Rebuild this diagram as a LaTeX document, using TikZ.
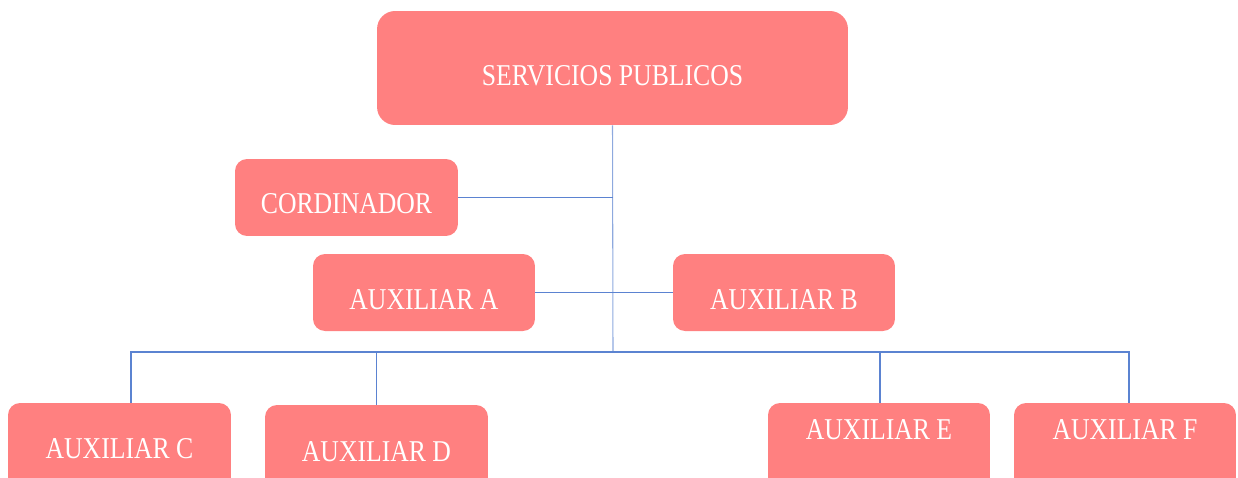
\documentclass[tikz,border=0pt]{standalone}
\usepackage{fontspec}
\setmainfont{Liberation Serif}
\newfontfamily\boxfont[FakeStretch=0.85]{Liberation Serif}
\usetikzlibrary{positioning}
\definecolor{boxred}{HTML}{FF8080}
\definecolor{linkblue}{HTML}{5B83D1}
\definecolor{trunkblue}{HTML}{8EA9DE}

\begin{document}
\begin{tikzpicture}[
          x = 0.02cm, y = -0.02cm,
        box/.style = {rectangle, rounded corners=2.4mm, fill=boxred, text=white, inner sep=0pt,
                      anchor=base, minimum width=4.46cm, font=\boxfont\fontsize{17.2}{20}\selectfont},
       link/.style = {draw=linkblue, line width=0.6pt}
                        ]
\clip (0,0) rectangle (1238,477);
\node (serv) [box, minimum width=9.42cm, rounded corners=3.6mm, text height=1.48cm, text depth=0.8cm] at (612.5,85) {SERVICIOS PUBLICOS};
\node (cord) [box, text height=1.08cm, text depth=0.46cm] at (346.5,213) {CORDINADOR};
\node (auxA) [box, minimum width=4.44cm, text height=1.1cm, text depth=0.44cm] at (424,309) {AUXILIAR A};
\node (auxB) [box, minimum width=4.44cm, text height=1.1cm, text depth=0.44cm] at (784,309) {AUXILIAR B};
\node (auxC) [box, text height=1.1cm, text depth=1cm] at (119.5,458) {AUXILIAR C};
\node (auxD) [box, text height=1.12cm, text depth=1cm] at (376.5,461) {AUXILIAR D};
\node (auxE) [box, minimum width=4.44cm, text height=0.72cm, text depth=1.4cm] at (879,439) {AUXILIAR E};
\node (auxF) [box, minimum width=4.44cm, text height=0.72cm, text depth=1.4cm] at (1125,439) {AUXILIAR F};
\coordinate (bus) at (613,352);
\draw[link, draw=trunkblue] (serv.south) -- (bus);
\draw[link] (cord.east) -- (cord.east -| serv.south);
\draw[link] (auxA.east) -- (auxB.west);
\draw[link] ([xshift=0.23cm]auxC.north) |- (bus) -| ([xshift=0.08cm]auxF.north);
\draw[link] (auxD.north) -- (auxD.north |- bus);
\draw[link] ([xshift=0.02cm]auxE.north) -- ([xshift=0.02cm]auxE.north |- bus);
\end{tikzpicture}
\end{document}
